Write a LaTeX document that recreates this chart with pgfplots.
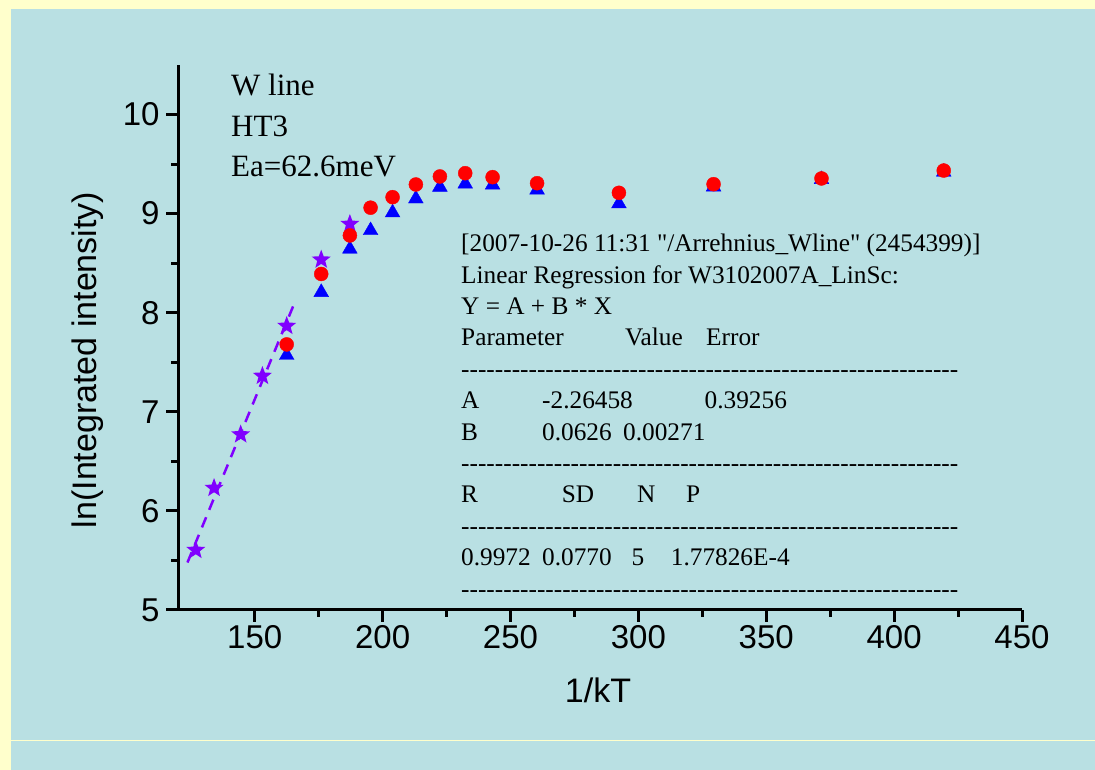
\documentclass[border=0pt]{standalone}
\usepackage{pgfplots}
\pgfplotsset{compat=1.18}
\usepackage{fontspec}
\setmainfont{Liberation Serif}
\newfontfamily\arial{Liberation Sans}
\newfontfamily\tnr[Ligatures=TeXOff]{Liberation Serif}
\definecolor{bgyellow}{RGB}{255,255,204}
\definecolor{panel}{RGB}{185,224,227}
\definecolor{starviolet}{RGB}{128,0,255}
\pgfdeclareplotmark{fstar}{%
  \pgfpathmoveto{\pgfpointpolar{90}{\pgfplotmarksize}}%
  \pgfpathlineto{\pgfpointpolar{126}{0.42\pgfplotmarksize}}%
  \pgfpathlineto{\pgfpointpolar{162}{\pgfplotmarksize}}%
  \pgfpathlineto{\pgfpointpolar{198}{0.42\pgfplotmarksize}}%
  \pgfpathlineto{\pgfpointpolar{234}{\pgfplotmarksize}}%
  \pgfpathlineto{\pgfpointpolar{270}{0.42\pgfplotmarksize}}%
  \pgfpathlineto{\pgfpointpolar{306}{\pgfplotmarksize}}%
  \pgfpathlineto{\pgfpointpolar{342}{0.42\pgfplotmarksize}}%
  \pgfpathlineto{\pgfpointpolar{18}{\pgfplotmarksize}}%
  \pgfpathlineto{\pgfpointpolar{54}{0.42\pgfplotmarksize}}%
  \pgfpathclose\pgfusepathqfill}
\newcommand\dashes{\foreach\i in {1,...,59}{-}}
\pgfplotstableread{
x y
126.95 5.605
134.1 6.231
144.5 6.771
153.0 7.362
162.5 7.866
176.0 8.535
187.2 8.895
}\stars
\pgfplotstableread{
x y
162.5 7.68
176.0 8.391
187.2 8.78
195.3 9.06
203.9 9.166
213.0 9.294
222.4 9.375
232.3 9.408
243.0 9.368
260.4 9.307
292.4 9.21
329.4 9.297
371.6 9.355
419.4 9.435
}\circles
\pgfplotstableread{
x y
162.5 7.571
176.0 8.206
187.2 8.643
195.3 8.83
203.9 9.009
213.0 9.15
222.4 9.268
232.3 9.30
243.0 9.29
260.4 9.24
292.4 9.10
329.4 9.27
371.6 9.345
419.4 9.42
}\triangles
\begin{document}
\begin{tikzpicture}[x=1pt,y=1pt]
\fill[bgyellow] (0,0) rectangle (1095,770);
\fill[panel] (11,0) rectangle (1095,761);
\draw[bgyellow, line width=1pt] (11,29.5) -- (1095,29.5);
\begin{axis}[at={(178pt,160pt)}, anchor=south west, scale only axis,
  width=844pt, height=545pt,
  xmin=120, xmax=450, ymin=5, ymax=10.5,
  axis x line*=bottom, axis y line*=left,
  axis line style={line width=3pt, -},
  xtick={150,200,...,450}, ytick={5,6,...,10},
  minor tick num=1,
  tick align=outside,
  major tick length=12pt, minor tick length=7pt,
  tick style={black, line width=3pt},
  every major tick/.append style={line width=3pt},
  every minor tick/.append style={line width=3pt},
  tick label style={font=\arial\fontsize{33}{33}\selectfont},
  yticklabel style={xshift=-3pt},
  /pgf/number format/assume math mode=true,
  clip=false,
]
\addplot[starviolet, dashed, line width=2.5pt, dash pattern=on 11pt off 8pt] coordinates {(123.7,5.479) (165.35,8.086)};
\addplot[only marks, mark=fstar, mark size=10pt, color=starviolet] table {\stars};
\addplot[only marks, mark=triangle*, mark size=8.5pt, color=blue] table {\triangles};
\addplot[only marks, mark=*, mark size=7pt, color=red] table {\circles};
\end{axis}
\node[rotate=90, font=\arial\fontsize{34}{34}\selectfont] at (88,410) {ln(Integrated intensity)};
\node[font=\arial\fontsize{34}{34}\selectfont] at (598,80) {1/kT};
\begin{scope}[every node/.style={anchor=base west, inner sep=0pt, font=\tnr\fontsize{31}{31}\selectfont}]
\node at (231,674) {W line};
\node at (231,633) {HT3};
\node at (231,593) {Ea=62.6meV};
\end{scope}
\begin{scope}[every node/.style={anchor=base west, inner sep=0pt, font=\tnr\fontsize{25.3}{25.3}\selectfont}]
\node at (461,518.3) {[2007-10-26 11:31 "/Arrehnius\_Wline" (2454399)]};
\node at (461,486.9) {Linear Regression for W3102007A\_LinSc:};
\node at (461,455.5) {Y = A + B * X};
\node at (461,424.1) {Parameter};
\node at (625,424.1) {Value};
\node at (706,424.1) {Error};
\node at (461,392.7) {\dashes};
\node at (461,361.3) {A};
\node at (542,361.3) {-2.26458};
\node at (704.5,361.3) {0.39256};
\node at (461,329.9) {B};
\node at (542,329.9) {0.0626};
\node at (623,329.9) {0.00271};
\node at (461,298.5) {\dashes};
\node at (461,267.1) {R};
\node at (561.6,267.1) {SD};
\node at (637,267.1) {N};
\node at (686,267.1) {P};
\node at (461,235.7) {\dashes};
\node at (461,204.3) {0.9972};
\node at (542,204.3) {0.0770};
\node at (631.5,204.3) {5};
\node at (670.7,204.3) {1.77826E-4};
\node at (461,172.9) {\dashes};
\end{scope}
\pgfresetboundingbox
\useasboundingbox (0,0) rectangle (1095,770);
\end{tikzpicture}
\end{document}
